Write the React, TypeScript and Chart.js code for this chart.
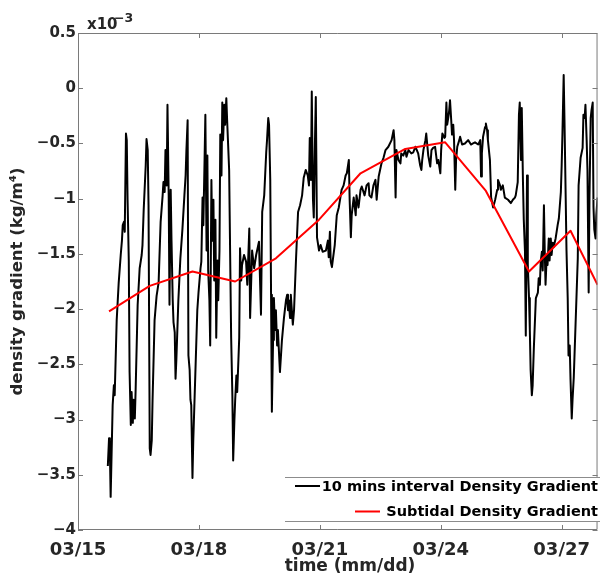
import React, { useEffect, useRef } from "react";
import { Chart, registerables } from "chart.js";

Chart.register(...registerables);

const FONT = '"DejaVu Sans", Verdana, sans-serif';

// x axis ticks (day of March) and y ticks (x 10^-3 kg/m^4)
const tickDays = [15, 18, 21, 24, 27];
const yTicks = [-4, -3.5, -3, -2.5, -2, -1.5, -1, -0.5, 0, 0.5];

// 10-minute series: time (day of March) and density gradient (x 10^-3)
const timeDays = [
  15.74, 15.77, 15.79, 15.81, 15.86, 15.89, 15.91, 15.96, 16.01, 16.06,
  16.09, 16.11, 16.14, 16.16, 16.19, 16.21, 16.23, 16.26, 16.28, 16.31,
  16.33, 16.36, 16.38, 16.41, 16.43, 16.48, 16.53, 16.58, 16.6, 16.63,
  16.68, 16.7, 16.73, 16.75, 16.78, 16.8, 16.83, 16.85, 16.9, 16.95,
  17.0, 17.05, 17.1, 17.12, 17.15, 17.17, 17.2, 17.22, 17.25, 17.27,
  17.3, 17.32, 17.35, 17.37, 17.4, 17.42, 17.44, 17.49, 17.54, 17.59,
  17.64, 17.67, 17.69, 17.72, 17.74, 17.77, 17.79, 17.81, 17.84, 17.86,
  17.91, 17.96, 17.99, 18.04, 18.06, 18.09, 18.11, 18.14, 18.16, 18.19,
  18.21, 18.23, 18.26, 18.28, 18.31, 18.33, 18.36, 18.38, 18.41, 18.43,
  18.46, 18.48, 18.51, 18.53, 18.56, 18.58, 18.6, 18.63, 18.65, 18.68,
  18.7, 18.73, 18.75, 18.78, 18.8, 18.83, 18.85, 18.88, 18.9, 18.93,
  18.95, 18.98, 19.0, 19.02, 19.05, 19.07, 19.12, 19.17, 19.2, 19.25,
  19.27, 19.32, 19.37, 19.42, 19.49, 19.54, 19.57, 19.62, 19.67, 19.69, 19.72,
  19.74, 19.77, 19.79, 19.81, 19.84, 19.86, 19.89, 19.91, 19.94, 19.96,
  20.01, 20.06, 20.11, 20.16, 20.19, 20.21, 20.23, 20.26, 20.28, 20.33,
  20.36, 20.41, 20.46, 20.51, 20.56, 20.6, 20.65, 20.7, 20.73, 20.75,
  20.78, 20.8, 20.83, 20.85, 20.88, 20.9, 20.93, 20.98, 21.02, 21.07,
  21.15, 21.2, 21.22, 21.25, 21.27, 21.3, 21.32, 21.37, 21.42, 21.47,
  21.54, 21.59, 21.64, 21.67, 21.72, 21.74, 21.77, 21.79, 21.84, 21.89,
  21.91, 21.96, 22.01, 22.04, 22.11, 22.16, 22.21, 22.23, 22.28, 22.33,
  22.38, 22.41, 22.46, 22.53, 22.58, 22.63, 22.7, 22.78, 22.83, 22.85,
  22.88, 22.9, 22.95, 23.0, 23.02, 23.07, 23.12, 23.15, 23.2, 23.27,
  23.32, 23.37, 23.44, 23.49, 23.52, 23.54, 23.57, 23.62, 23.64, 23.69,
  23.74, 23.77, 23.81, 23.86, 23.91, 23.94, 23.99, 24.01, 24.04, 24.09,
  24.11, 24.14, 24.16, 24.19, 24.21, 24.23, 24.26, 24.28, 24.31, 24.33,
  24.36, 24.38, 24.41, 24.46, 24.48, 24.53, 24.6, 24.68, 24.75, 24.8,
  24.85, 24.93, 24.98, 25.0, 25.02, 25.05, 25.1, 25.12, 25.15, 25.17,
  25.22, 25.25, 25.3, 25.35, 25.4, 25.42, 25.47, 25.49, 25.54, 25.59,
  25.67, 25.74, 25.79, 25.84, 25.86, 25.91, 25.94, 25.96, 25.99, 26.01,
  26.04, 26.06, 26.09, 26.11, 26.14, 26.16, 26.19, 26.21, 26.23, 26.26,
  26.28, 26.31, 26.36, 26.41, 26.43, 26.46, 26.48, 26.51, 26.53, 26.56,
  26.58, 26.6, 26.63, 26.65, 26.68, 26.7, 26.73, 26.75, 26.78, 26.8,
  26.85, 26.9, 26.93, 26.98, 27.0, 27.02, 27.05, 27.07, 27.1, 27.12,
  27.15, 27.17, 27.2, 27.22, 27.25, 27.27, 27.3, 27.35, 27.4, 27.42,
  27.47, 27.52, 27.54, 27.57, 27.59, 27.62, 27.64, 27.67, 27.69, 27.72,
  27.74, 27.77, 27.79, 27.81, 27.84, 27.86, 27.89,
];

const gradient10min = [
  -3.42, -3.17, -3.26, -3.7, -2.87, -2.69, -2.78, -2.1, -1.76, -1.51,
  -1.38, -1.24, -1.21, -1.3, -0.41, -0.47, -1.01, -1.56, -2.57, -3.05,
  -2.75, -3.03, -2.82, -2.99, -2.73, -1.96, -1.63, -1.51, -1.42, -1.1,
  -0.7, -0.46, -0.56, -1.06, -3.26, -3.32, -3.19, -2.82, -2.1, -1.88,
  -1.76, -1.21, -0.97, -0.85, -0.94, -0.56, -0.88, -0.15, -0.97, -1.96,
  -0.92, -1.38, -1.92, -2.12, -2.21, -2.63, -2.46, -1.92, -1.54, -1.28,
  -0.97, -0.79, -0.56, -0.29, -2.42, -2.55, -2.82, -2.87, -3.53, -3.19,
  -2.6, -2.01, -1.85, -1.63, -1.57, -0.99, -1.24, -0.65, -0.24, -1.47,
  -0.61, -1.65, -1.92, -2.33, -0.83, -1.38, -1.01, -1.74, -1.19, -2.26,
  -1.56, -1.92, -1.47, -0.42, -0.79, -0.13, -0.47, -0.15, -0.33, -0.09,
  -0.29, -0.56, -0.74, -1.66, -2.26, -2.78, -3.37, -3.01, -2.82, -2.6,
  -2.75, -2.46, -2.26, -1.45, -1.74, -1.6, -1.51, -1.57, -1.78, -1.27,
  -2.08, -1.47, -1.63, -1.51, -1.39, -2.05, -1.12, -0.97, -0.58, -0.47, -0.27,
  -0.33, -0.83, -1.87, -2.93, -2.28, -1.9, -2.19, -2.01, -2.33, -2.19,
  -2.57, -2.28, -2.08, -1.92, -1.87, -2.01, -1.92, -2.08, -1.87, -2.14,
  -2.01, -1.54, -1.12, -1.06, -0.97, -0.81, -0.74, -0.79, -0.88, -0.45,
  -0.83, -0.03, -1.01, -1.17, -0.47, -0.08, -1.35, -1.47, -1.42, -1.48,
  -1.47, -1.38, -1.53, -1.3, -1.57, -1.62, -1.56, -1.42, -1.15, -1.08,
  -0.92, -0.88, -0.79, -0.77, -0.65, -1.01, -1.35, -1.15, -0.99, -1.15,
  -0.97, -1.08, -0.92, -0.89, -0.97, -0.88, -0.86, -0.97, -0.99, -0.88,
  -0.83, -1.01, -0.8, -0.68, -0.63, -0.56, -0.53, -0.47, -0.38, -0.47,
  -0.99, -0.56, -0.65, -0.68, -0.59, -0.61, -0.56, -0.62, -0.56, -0.59,
  -0.58, -0.53, -0.59, -0.7, -0.74, -0.65, -0.56, -0.47, -0.41, -0.61,
  -0.71, -0.56, -0.54, -0.53, -0.68, -0.65, -0.77, -0.56, -0.41, -0.45,
  -0.44, -0.13, -0.33, -0.26, -0.2, -0.11, -0.29, -0.42, -0.33, -0.47,
  -0.92, -0.65, -0.53, -0.47, -0.44, -0.51, -0.5, -0.47, -0.51, -0.5,
  -0.49, -0.51, -0.47, -0.8, -0.59, -0.44, -0.35, -0.32, -0.38, -0.47,
  -0.65, -0.99, -1.08, -1.01, -0.92, -0.83, -0.88, -0.92, -0.88, -0.99,
  -1.01, -1.04, -1.01, -0.99, -0.97, -0.85, -0.24, -0.13, -0.65, -0.18,
  -0.85, -1.19, -1.48, -2.24, -0.79, -1.6, -1.9, -2.19, -2.55, -2.78,
  -2.69, -2.35, -1.9, -1.85, -1.72, -1.78, -1.57, -1.48, -1.65, -1.06,
  -1.47, -1.78, -1.51, -1.6, -1.36, -1.56, -1.36, -1.51, -1.4, -1.44,
  -1.36, -1.24, -1.18, -0.94, -0.7, -0.4, 0.12, -0.29, -0.99, -1.47,
  -1.9, -2.42, -2.33, -2.64, -2.99, -2.82, -2.62, -2.08, -1.54, -0.88,
  -0.63, -0.54, -0.24, -0.27, -0.15, -0.47, -0.74, -1.85, -0.99, -0.27,
  -0.2, -0.13, -1.08, -1.28, -1.36, -1.15, -0.99,
];

// Subtidal (low-pass) series
const subtidalDays = [15.77, 16.78, 17.84, 18.9, 19.91, 20.98, 22.01, 23.12, 24.11, 25.12, 26.19, 27.22, 27.89];
const subtidalGradient = [-2.02, -1.79, -1.66, -1.75, -1.54, -1.19, -0.77, -0.55, -0.49, -0.93, -1.66, -1.29, -1.78];

const seriesLabels = ["10 mins interval Density Gradient", "Subtidal Density Gradient"];
const xTitle = "time (mm/dd)";
const yTitle = "density gradient (kg/m\u2074)";

const fmtDate = (v: number) => "03/" + String(Math.round(v)).padStart(2, "0");
const fmtY = (v: number) => (v === 0 ? "0" : v < 0 ? "\u2212" + String(Math.abs(v)) : String(v));

const framePlugin = {
  id: "matlabFrame",
  afterDraw(chart: any) {
    const { ctx, chartArea } = chart;
    const { left, right, top, bottom } = chartArea;
    const xs = chart.scales.x;
    const ys = chart.scales.y;
    ctx.save();
    // box
    ctx.strokeStyle = "#7a7a7a";
    ctx.lineWidth = 1;
    ctx.beginPath();
    ctx.moveTo(left + 0.5, top + 0.5);
    ctx.lineTo(right - 0.5, top + 0.5);
    ctx.lineTo(right - 0.5, bottom - 0.5);
    ctx.lineTo(left + 0.5, bottom - 0.5);
    ctx.closePath();
    ctx.stroke();
    // inward ticks
    const tl = 5;
    ctx.beginPath();
    tickDays.forEach((d) => {
      const px = Math.round(xs.getPixelForValue(d)) + 0.5;
      ctx.moveTo(px, bottom);
      ctx.lineTo(px, bottom - tl);
      ctx.moveTo(px, top);
      ctx.lineTo(px, top + tl);
    });
    yTicks.forEach((v) => {
      const py = Math.round(ys.getPixelForValue(v)) + 0.5;
      ctx.moveTo(left, py);
      ctx.lineTo(left + tl, py);
      ctx.moveTo(right, py);
      ctx.lineTo(right - tl, py);
    });
    ctx.stroke();

    // x axis title
    ctx.fillStyle = "#262626";
    ctx.textAlign = "center";
    ctx.textBaseline = "alphabetic";
    ctx.font = `bold 17px ${FONT}`;
    ctx.fillText(xTitle, 350, 571);

    // exponent label
    ctx.textAlign = "left";
    ctx.font = `bold 15px ${FONT}`;
    ctx.fillText("x10", 87, 29);
    ctx.font = `bold 12.5px ${FONT}`;
    ctx.fillText("\u22123", 114, 22);

    // legend
    const lx = 285;
    const ly = 477;
    ctx.fillStyle = "#ffffff";
    ctx.fillRect(lx, ly, 600 - lx, 44);
    ctx.strokeStyle = "#8c8c8c";
    ctx.lineWidth = 1;
    ctx.beginPath();
    ctx.moveTo(lx, ly + 0.5);
    ctx.lineTo(600, ly + 0.5);
    ctx.moveTo(lx, ly + 44.5);
    ctx.lineTo(600, ly + 44.5);
    ctx.stroke();
    ctx.lineWidth = 2;
    ctx.strokeStyle = "#000000";
    ctx.beginPath();
    ctx.moveTo(295, 486);
    ctx.lineTo(320, 486);
    ctx.stroke();
    ctx.strokeStyle = "#ff0000";
    ctx.beginPath();
    ctx.moveTo(355, 511.5);
    ctx.lineTo(380, 511.5);
    ctx.stroke();
    ctx.fillStyle = "#000000";
    ctx.font = `bold 14.5px ${FONT}`;
    ctx.textAlign = "right";
    ctx.fillText(chart.data.datasets[0].label, 598, 491);
    ctx.fillText(chart.data.datasets[1].label, 598, 516);
    ctx.restore();
  },
};

export default function App() {
  const ref = useRef<HTMLCanvasElement>(null);
  useEffect(() => {
    const canvas = ref.current;
    if (!canvas) return;
    const chart = new Chart(canvas, {
      type: "line",
      data: {
        datasets: [
          {
            label: seriesLabels[0],
            data: timeDays.map((t, i) => ({ x: t, y: gradient10min[i] })),
            borderColor: "#000000",
            backgroundColor: "#000000",
            borderWidth: 2,
            pointRadius: 0,
            tension: 0,
            borderJoinStyle: "round",
            order: 1,
          },
          {
            label: seriesLabels[1],
            data: subtidalDays.map((t, i) => ({ x: t, y: subtidalGradient[i] })),
            borderColor: "#ff0000",
            backgroundColor: "#ff0000",
            borderWidth: 2,
            pointRadius: 0,
            tension: 0,
            borderJoinStyle: "round",
            order: 0,
          },
        ],
      },
      options: {
        responsive: false,
        animation: false,
        devicePixelRatio: 1,
        events: [],
        layout: { padding: { top: 33, left: 0, right: 0, bottom: 0 } },
        plugins: { legend: { display: false }, tooltip: { enabled: false } },
        scales: {
          x: {
            type: "linear",
            min: 15,
            max: 27.89,
            afterBuildTicks: (s: any) => {
              s.ticks = tickDays.map((v) => ({ value: v }));
            },
            afterFit: (s: any) => {
              s.height = 49;
            },
            grid: { display: false, drawTicks: false },
            border: { display: false },
            ticks: {
              autoSkip: false,
              maxRotation: 0,
              padding: 10,
              color: "#262626",
              font: { family: FONT, size: 18, weight: "bold" },
              callback: (v: any) => fmtDate(Number(v)),
            },
            title: { display: false },
          },
          y: {
            type: "linear",
            min: -4,
            max: 0.5,
            afterBuildTicks: (s: any) => {
              s.ticks = yTicks.map((v) => ({ value: v }));
            },
            afterFit: (s: any) => {
              s.width = 78;
            },
            grid: { display: false, drawTicks: false },
            border: { display: false },
            ticks: {
              autoSkip: false,
              padding: 2,
              color: "#262626",
              font: { family: FONT, size: 15, weight: "bold" },
              callback: (v: any) => fmtY(Number(v)),
            },
            title: {
              display: true,
              text: yTitle,
              color: "#262626",
              font: { family: FONT, size: 16.5, weight: "bold" },
              padding: { top: 8, bottom: 0 },
            },
          },
        },
      },
      plugins: [framePlugin],
    } as any);
    return () => chart.destroy();
  }, []);
  return (
    <div style={{ position: "absolute", left: 0, top: 0, width: 600, height: 579, background: "#ffffff" }}>
      <canvas ref={ref} width={600} height={579} style={{ display: "block" }} />
    </div>
  );
}
